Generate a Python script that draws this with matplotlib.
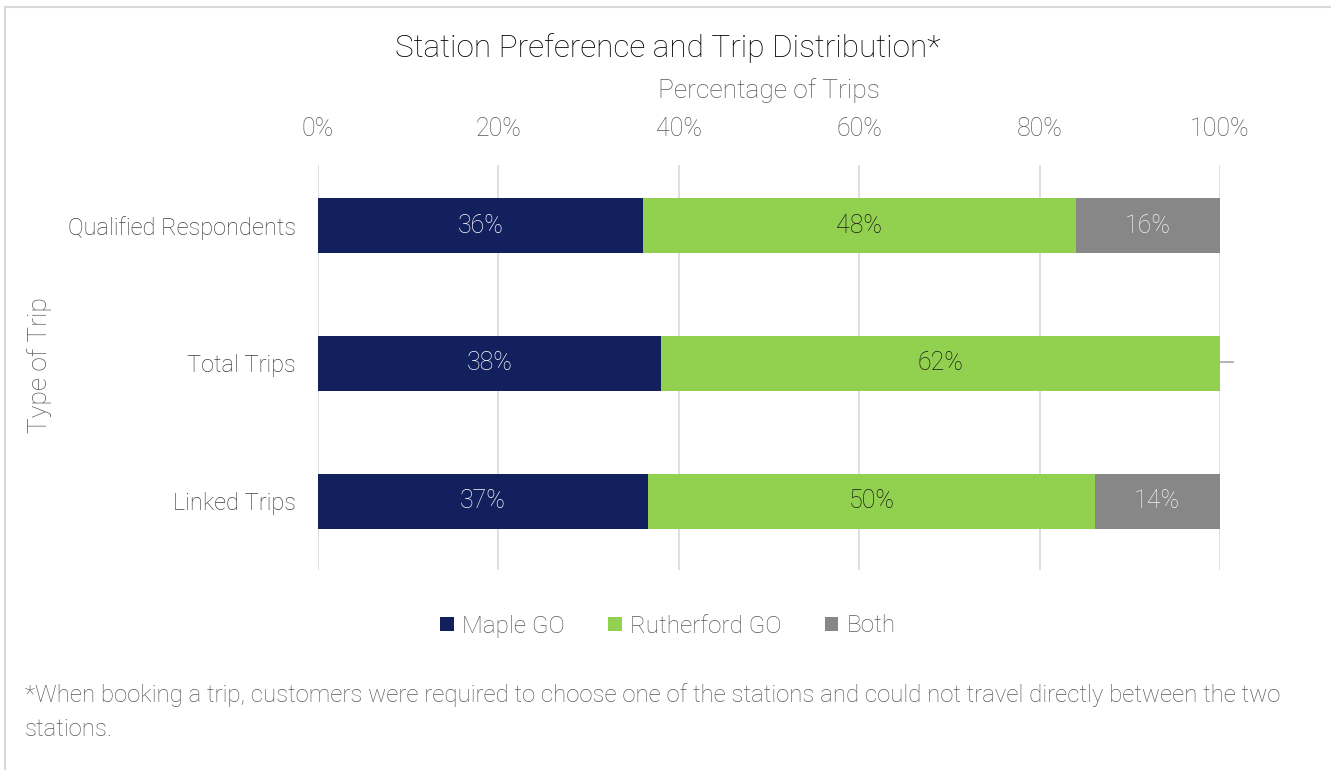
import numpy as np
import matplotlib.pyplot as plt
from matplotlib.patches import Rectangle

plt.rcParams['font.family'] = ['Roboto', 'DejaVu Sans']

# data
categories = ["Qualified Respondents", "Total Trips", "Linked Trips"]
maple = [36.0, 38.0, 36.6]
rutherford = [48.0, 62.0, 49.5]
both = [16.0, 0.0, 13.9]
series_names = ["Maple GO", "Rutherford GO", "Both"]
colors = ["#13205E", "#92D050", "#878787"]
text_colors = ["white", "#1a1a1a", "#f2f2f2"]

fig = plt.figure(figsize=(13.31, 7.70), dpi=100)
ax = fig.add_axes([318 / 1331, 1 - 570 / 770, 902 / 1331, 405 / 770])

y = np.arange(len(categories))
left = np.zeros(len(categories))
for vals, name, c, tc in zip([maple, rutherford, both], series_names, colors, text_colors):
    vals = np.array(vals)
    ax.barh(y, vals, left=left, height=0.4, color=c, label=name, zorder=3)
    for yi, v, l in zip(y, vals, left):
        if v > 0:
            ax.text(l + v / 2, yi, f"{v:.0f}%", ha="center", va="center",
                    color=tc, fontsize=18, fontweight="light", zorder=4)
        else:
            # leader line of the empty label
            ax.plot([l, l + 1.4], [yi - 0.01, yi - 0.01], color="#a6a6a6", lw=1.2,
                    zorder=4, clip_on=False)
    left = left + vals

ax.set_xlim(0, 100)
ax.set_ylim(2.5, -0.44)
ax.set_xticks(np.arange(0, 101, 20))
ax.set_xticklabels([f"{t}%" for t in range(0, 101, 20)])
ax.xaxis.tick_top()
ax.xaxis.set_label_position("top")
ax.tick_params(axis="x", length=0, pad=17, labelsize=18, labelcolor="#595959")
ax.tick_params(axis="y", length=0, pad=16, labelsize=17, labelcolor="#404040")
ax.set_yticks(y)
ax.set_yticklabels(categories)
for lab in ax.get_xticklabels() + ax.get_yticklabels():
    lab.set_fontweight("light")
ax.grid(axis="x", color="#d9d9d9", linewidth=1.2, zorder=0)
for s in ax.spines.values():
    s.set_visible(False)

ax.set_xlabel("Percentage of Trips", fontsize=19, color="#595959", labelpad=14, fontweight="light")
fig.text(40 / 1331, 1 - 365 / 770, "Type of Trip", rotation=90, ha="center", va="center",
         fontsize=19, color="#595959", fontweight="light")
fig.text(668 / 1331, 1 - 48 / 770, "Station Preference and Trip Distribution*", ha="center",
         va="center", fontsize=22.7, color="black", fontweight="light")

leg = fig.legend(loc="center", bbox_to_anchor=(668 / 1331, 1 - 626 / 770), ncol=3, frameon=False,
                 fontsize=17.5, handlelength=0.55, handleheight=0.55, handletextpad=0.33,
                 columnspacing=1.8)
for t in leg.get_texts():
    t.set_color("#595959")
    t.set_fontweight("light")

fig.text(25 / 1331, 1 - 695 / 770,
         "*When booking a trip, customers were required to choose one of the stations and could not travel directly between the two",
         ha="left", va="center", fontsize=17.25, color="#595959", fontweight="light")
fig.text(25 / 1331, 1 - 730 / 770, "stations.", ha="left", va="center", fontsize=17.25,
         color="#595959", fontweight="light")

fig.patches.append(Rectangle((5 / 1331, -0.05), 1.2, 1 - 7 / 770 + 0.05, transform=fig.transFigure,
                             fill=False, edgecolor="#d9d9d9", linewidth=1.5))

fig.savefig("out.png", dpi=100)
